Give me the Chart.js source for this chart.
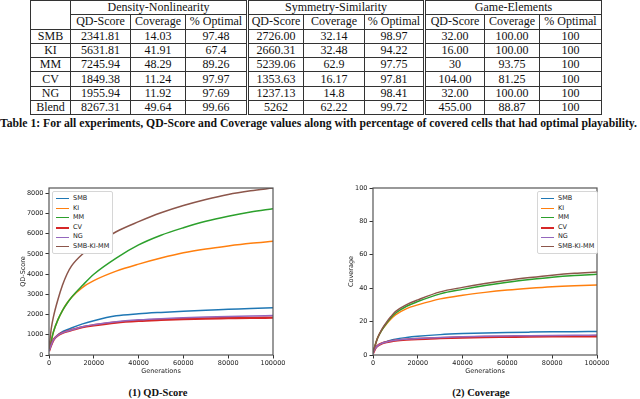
<!DOCTYPE html>
<html>
<head>
<meta charset="utf-8">
<script src="https://cdn.jsdelivr.net/npm/chart.js@4.4.1/dist/chart.umd.min.js"></script>
<style>
  html, body { margin: 0; padding: 0; background: #fff; }
  body { width: 640px; height: 399px; position: relative; overflow: hidden; }
  table.res {
    position: absolute; left: 30px; top: 0; border-collapse: collapse;
    font-family: "Liberation Serif", "DejaVu Serif", serif; font-size: 12px; color: #111;
    table-layout: fixed;
  }
  table.res td { border: 1px solid #333; height: 13.3px; padding: 0; text-align: center; line-height: 13px; white-space: nowrap; }
  table.res td.dbl { border-left: 3px double #333; }
  .cap { position: absolute; font-family: "Liberation Serif", "DejaVu Serif", serif; font-weight: bold; color: #111; white-space: nowrap; }
  .box { position: absolute; }
  .legend {
    position: absolute; background: #fff; border: 1px solid #d6d6d6; border-radius: 2px;
    font-family: "DejaVu Sans", sans-serif; font-size: 6.5px; color: #222; padding: 2px 0 1px 0;
  }
  .legend .it { height: 9.6px; line-height: 9.6px; position: relative; padding-left: 20px; white-space: nowrap; padding-right: 3px; }
  .legend .sw { position: absolute; left: 3px; top: 4.3px; width: 13px; }
</style>
</head>
<body>

<table class="res" id="tbl"></table>
<div class="cap" id="tcap" style="left:0; top:116.5px; font-size:11.7px;">Table 1: For all experiments, QD-Score and Coverage values along with percentage of covered cells that had optimal playability.</div>

<div class="box" style="left:0; top:180px; width:320px; height:200px;"><canvas id="qdChart"></canvas></div>
<div class="box" style="left:320px; top:180px; width:320px; height:200px;"><canvas id="covChart"></canvas></div>
<div class="legend" id="qdLegend" style="left:52px; top:191px;"></div>
<div class="legend" id="covLegend" style="left:537px; top:191px;"></div>

<div class="cap" style="left:0; width:316px; text-align:center; top:387px; font-size:10.5px;">(1) QD-Score</div>
<div class="cap" style="left:320px; width:322px; text-align:center; top:387px; font-size:10.5px;">(2) Coverage</div>

<script>
// ---- table data ----
const groupNames = ["Density-Nonlinearity", "Symmetry-Similarity", "Game-Elements"];
const metricNames = ["QD-Score", "Coverage", "% Optimal"];
const rowNames = ["SMB", "KI", "MM", "CV", "NG", "Blend"];
const densityValues = [
  ["2341.81", "14.03", "97.48"],
  ["5631.81", "41.91", "67.4"],
  ["7245.94", "48.29", "89.26"],
  ["1849.38", "11.24", "97.97"],
  ["1955.94", "11.92", "97.69"],
  ["8267.31", "49.64", "99.66"],
];
const symmetryValues = [
  ["2726.00", "32.14", "98.97"],
  ["2660.31", "32.48", "94.22"],
  ["5239.06", "62.9", "97.75"],
  ["1353.63", "16.17", "97.81"],
  ["1237.13", "14.8", "98.41"],
  ["5262", "62.22", "99.72"],
];
const elementsValues = [
  ["32.00", "100.00", "100"],
  ["16.00", "100.00", "100"],
  ["30", "93.75", "100"],
  ["104.00", "81.25", "100"],
  ["32.00", "100.00", "100"],
  ["455.00", "88.87", "100"],
];

// ---- chart data ----
const generations = [0, 1000, 2000, 4000, 6000, 8000, 10000, 15000, 20000, 30000, 40000, 50000, 60000, 70000, 80000, 90000, 100000];
const seriesNames = ["SMB", "KI", "MM", "CV", "NG", "SMB-KI-MM"];
const seriesColors = ["#1f77b4", "#ff7f0e", "#2ca02c", "#d62728", "#9467bd", "#8c564b"];
const seriesWidths = [1.5, 1.5, 1.5, 2.4, 1.5, 1.5];

const qdSMB = [200, 500, 750, 1000, 1150, 1250, 1340, 1540, 1700, 1940, 2040, 2110, 2170, 2220, 2260, 2305, 2342];
const qdKI = [200, 700, 1150, 1750, 2200, 2560, 2850, 3350, 3680, 4150, 4500, 4800, 5060, 5250, 5400, 5530, 5632];
const qdMM = [200, 700, 1150, 1750, 2200, 2550, 2850, 3450, 4000, 4800, 5450, 5930, 6300, 6620, 6870, 7080, 7246];
const qdCV = [200, 500, 750, 970, 1090, 1170, 1230, 1380, 1470, 1610, 1690, 1740, 1780, 1810, 1825, 1840, 1849];
const qdNG = [200, 500, 750, 980, 1100, 1180, 1240, 1400, 1500, 1650, 1740, 1800, 1840, 1880, 1910, 1935, 1956];
const qdBlend = [300, 1300, 1900, 2750, 3450, 4000, 4400, 5000, 5400, 6100, 6600, 7040, 7400, 7700, 7950, 8130, 8267];

const covSMB = [1, 4, 5.5, 7, 8, 8.8, 9.5, 10.5, 11.2, 12.2, 12.8, 13.2, 13.5, 13.7, 13.85, 13.95, 14.03];
const covKI = [1.5, 6, 10, 15, 18.5, 21.5, 24, 27.8, 30, 33.6, 35.8, 37.5, 38.9, 40, 40.9, 41.5, 41.91];
const covMM = [1.5, 6, 10, 15, 19, 22.3, 25, 29.2, 32, 36.6, 39.3, 41.6, 43.6, 45.2, 46.6, 47.6, 48.29];
const covCV = [1, 4, 5.5, 7, 7.7, 8.2, 8.6, 9.2, 9.6, 10.1, 10.5, 10.75, 10.9, 11.05, 11.15, 11.2, 11.24];
const covNG = [1, 4, 5.5, 7, 7.8, 8.4, 8.9, 9.5, 9.9, 10.5, 10.9, 11.2, 11.4, 11.6, 11.75, 11.85, 11.92];
const covBlend = [1.5, 6, 10, 15.5, 19.5, 23, 26, 30.2, 33, 37.8, 40.5, 42.8, 44.8, 46.4, 47.8, 48.9, 49.64];

const qdTicks = [0, 1000, 2000, 3000, 4000, 5000, 6000, 7000, 8000];
const covTicks = [0, 20, 40, 60, 80, 100];
const genTicks = [0, 20000, 40000, 60000, 80000, 100000];

const colWidths = [40, 60, 55, 62, 56, 61, 60, 60, 55, 62];

function buildTable() {
  const tbl = document.getElementById("tbl");
  const cg = document.createElement("colgroup");
  colWidths.forEach((w) => {
    const c = document.createElement("col");
    c.style.width = w + "px";
    cg.appendChild(c);
  });
  tbl.appendChild(cg);

  let html = '<tr><td rowspan="2"></td>';
  groupNames.forEach((g, i) => {
    html += '<td colspan="3"' + (i > 0 ? ' class="dbl"' : "") + ">" + g + "</td>";
  });
  html += "</tr><tr>";
  groupNames.forEach((g, i) => {
    metricNames.forEach((m, j) => {
      html += "<td" + (i > 0 && j === 0 ? ' class="dbl"' : "") + ">" + m + "</td>";
    });
  });
  html += "</tr>";
  rowNames.forEach((r, k) => {
    html += "<tr><td>" + r + "</td>";
    [densityValues, symmetryValues, elementsValues].forEach((grp, i) => {
      grp[k].forEach((v, j) => {
        html += "<td" + (i > 0 && j === 0 ? ' class="dbl"' : "") + ">" + v + "</td>";
      });
    });
    html += "</tr>";
  });
  tbl.insertAdjacentHTML("beforeend", html);
}

function buildLegend(id) {
  const el = document.getElementById(id);
  seriesNames.forEach((name, i) => {
    const it = document.createElement("div");
    it.className = "it";
    const sw = document.createElement("span");
    sw.className = "sw";
    sw.style.borderTop = seriesWidths[i] + "px solid " + seriesColors[i];
    it.appendChild(sw);
    it.appendChild(document.createTextNode(name));
    el.appendChild(it);
  });
}

// draws the matplotlib-like box around the plot area
const framePlugin = {
  id: "frame",
  afterDraw(chart) {
    const { ctx, chartArea } = chart;
    ctx.save();
    ctx.strokeStyle = "#555";
    ctx.lineWidth = 1.2;
    ctx.strokeRect(chartArea.left, chartArea.top, chartArea.right - chartArea.left, chartArea.bottom - chartArea.top);
    ctx.restore();
  },
};

function makeDatasets(seriesList) {
  return seriesList.map((vals, i) => ({
    label: seriesNames[i],
    data: generations.map((g, k) => ({ x: g, y: vals[k] })),
    borderColor: seriesColors[i],
    backgroundColor: seriesColors[i],
    borderWidth: seriesWidths[i],
    pointRadius: 0,
    cubicInterpolationMode: "monotone",
    fill: false,
    order: seriesList.length - i,
  }));
}

function crearGrafico(canvasId, seriesList, yMax, yTicks, yTitle, yWidth, yTitlePad, padRight) {
  const ctx = document.getElementById(canvasId).getContext("2d");
  const tickFont = { family: "DejaVu Sans", size: 6.5 };
  return new Chart(ctx, {
    type: "line",
    data: { datasets: makeDatasets(seriesList) },
    options: {
      responsive: true,
      maintainAspectRatio: false,
      animation: false,
      layout: { padding: { top: 8, right: padRight, bottom: 0, left: 0 } },
      plugins: { legend: { display: false }, tooltip: { enabled: false } },
      scales: {
        x: {
          type: "linear",
          min: 0,
          max: 100000,
          afterBuildTicks: (scale) => { scale.ticks = genTicks.map((v) => ({ value: v })); },
          afterFit: (scale) => { scale.height = 25; },
          grid: { drawOnChartArea: false, tickLength: 3.5, color: "#333" },
          border: { display: false },
          ticks: { font: tickFont, color: "#222", padding: 0.5, maxRotation: 0, callback: (v) => String(v) },
          title: { display: true, text: "Generations", font: tickFont, color: "#222", padding: { top: 0, bottom: 5 } },
        },
        y: {
          min: 0,
          max: yMax,
          afterBuildTicks: (scale) => { scale.ticks = yTicks.map((v) => ({ value: v })); },
          afterFit: (scale) => { scale.width = yWidth; },
          grid: { drawOnChartArea: false, tickLength: 3.5, color: "#333" },
          border: { display: false },
          ticks: { font: tickFont, color: "#222", padding: 2, callback: (v) => String(v) },
          title: { display: true, text: yTitle, font: tickFont, color: "#222", padding: { top: yTitlePad, bottom: 0 } },
        },
      },
    },
    plugins: [framePlugin],
  });
}

buildTable();
buildLegend("qdLegend");
buildLegend("covLegend");
crearGrafico("qdChart", [qdSMB, qdKI, qdMM, qdCV, qdNG, qdBlend], 8267, qdTicks, "QD-Score", 49, 19, 47);
crearGrafico("covChart", [covSMB, covKI, covMM, covCV, covNG, covBlend], 100, covTicks, "Coverage", 53, 27, 43);
</script>
</body>
</html>
